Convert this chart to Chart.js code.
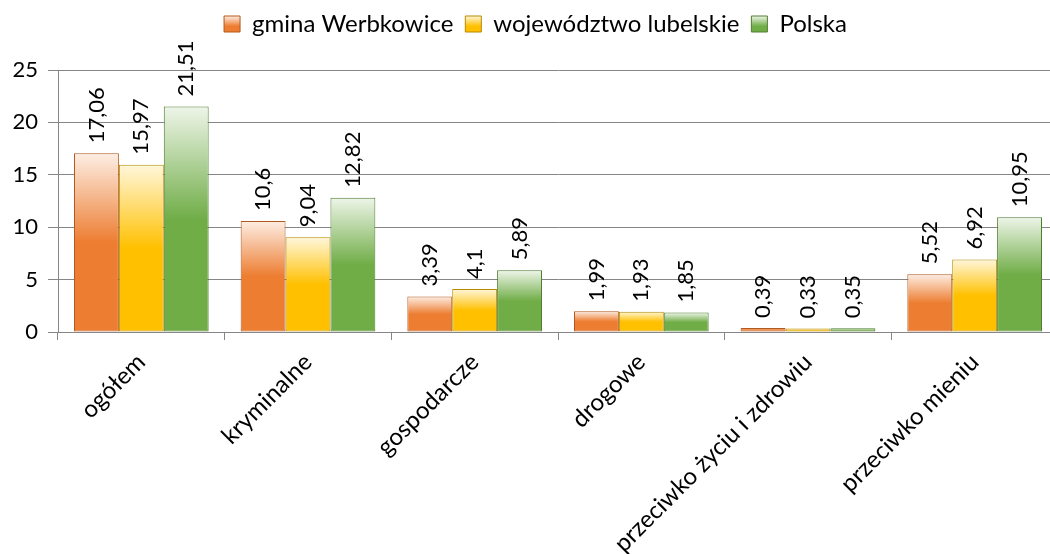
<!DOCTYPE html>
<html>
<head>
<meta charset="utf-8">
<script src="https://cdn.jsdelivr.net/npm/chart.js@4"></script>
<style>
    html, body { margin: 0; padding: 0; background: #fff; overflow: hidden; }
    #wrap { width: 1100px; height: 554px; position: relative; }
</style>
</head>
<body>
<div id="wrap"><canvas id="chart"></canvas></div>
<script>
const categories = ["ogółem", "kryminalne", "gospodarcze", "drogowe", "przeciwko życiu i zdrowiu", "przeciwko mieniu"];
const gmina = [17.06, 10.6, 3.39, 1.99, 0.39, 5.52];
const wojewodztwo = [15.97, 9.04, 4.1, 1.93, 0.33, 6.92];
const polska = [21.51, 12.82, 5.89, 1.85, 0.35, 10.95];
const seriesNames = ["gmina Werbkowice", "województwo lubelskie", "Polska"];
const yTicks = [0, 5, 10, 15, 20, 25];

const FONT = "Lato";
const NUM_SIZE = 22;   // digits (axis + value labels)
const TEXT_SIZE = 24;  // words (legend + categories)
const gridColor = "#868686";

// base, light top, border
const styles = [
    ["#ED7D31", "#FDEEE4", "#B1591E"],
    ["#FFC000", "#FFF7DC", "#B78A00"],
    ["#70AD47", "#EEF5E9", "#507E32"]
];

function barFill(i) {
    return function (ctx) {
        const [base, light] = styles[i];
        const chart = ctx.chart;
        if (!chart.chartArea || ctx.type !== 'data') return base;
        const y = chart.scales.y;
        const top = y.getPixelForValue(ctx.parsed.y);
        const bottom = y.getPixelForValue(0);
        if (!(bottom > top)) return base;
        const g = chart.ctx.createLinearGradient(0, top, 0, bottom);
        g.addColorStop(0, light);
        g.addColorStop(0.5, base);
        g.addColorStop(1, base);
        return g;
    };
}

const valueLabels = {
    id: 'valueLabels',
    afterDatasetsDraw(chart) {
        const c = chart.ctx;
        c.save();
        c.font = NUM_SIZE + "px " + FONT;
        c.fillStyle = "#000";
        c.textAlign = "left";
        c.textBaseline = "middle";
        chart.data.datasets.forEach((ds, i) => {
            chart.getDatasetMeta(i).data.forEach((bar, j) => {
                c.save();
                c.translate(bar.x, bar.y - 10);
                c.rotate(-Math.PI / 2);
                c.fillText(String(ds.data[j]).replace(".", ","), 0, 0);
                c.restore();
            });
        });
        c.restore();
    }
};

const legendHeight = {
    id: 'legendHeight',
    beforeInit(chart) {
        const fit = chart.legend.fit;
        chart.legend.fit = function () {
            fit.bind(chart.legend)();
            this.height = 70;
        };
    }
};

Chart.defaults.font.family = FONT;
Chart.defaults.font.size = NUM_SIZE;
Chart.defaults.color = "#000";

const seriesData = [gmina, wojewodztwo, polska];

new Chart(document.getElementById("chart"), {
    type: 'bar',
    data: {
        labels: categories,
        datasets: seriesData.map((d, i) => ({
            label: seriesNames[i],
            data: d,
            backgroundColor: barFill(i),
            borderColor: styles[i][2],
            borderWidth: 1,
            borderSkipped: false,
            barPercentage: 1,
            categoryPercentage: 0.808
        }))
    },
    options: {
        responsive: true,
        maintainAspectRatio: false,
        animation: false,
        layout: {
            padding: { left: 13, right: 42, top: 0, bottom: 0 }
        },
        plugins: {
            tooltip: { enabled: false },
            legend: {
                position: 'top',
                labels: {
                    font: { size: TEXT_SIZE },
                    boxWidth: 16,
                    boxHeight: 16,
                    padding: 12,
                    generateLabels(chart) {
                        return chart.data.datasets.map((ds, i) => {
                            const g = chart.ctx.createLinearGradient(0, 16, 0, 33);
                            g.addColorStop(0, styles[i][1]);
                            g.addColorStop(0.6, styles[i][0]);
                            g.addColorStop(1, styles[i][0]);
                            return {
                                text: ds.label,
                                fillStyle: g,
                                strokeStyle: styles[i][2],
                                lineWidth: 1,
                                datasetIndex: i,
                                hidden: false
                            };
                        });
                    }
                }
            }
        },
        scales: {
            x: {
                grid: {
                    drawOnChartArea: false,
                    drawTicks: true,
                    tickLength: 8,
                    color: gridColor,
                    offset: true
                },
                border: { display: false },
                ticks: {
                    font: { size: TEXT_SIZE },
                    autoSkip: false,
                    minRotation: 45,
                    maxRotation: 45,
                    padding: 8
                },
                afterFit(scale) { scale.height = 222; }
            },
            y: {
                min: yTicks[0],
                max: yTicks[yTicks.length - 1],
                ticks: {
                    stepSize: yTicks[1] - yTicks[0],
                    padding: 10
                },
                grid: {
                    color: gridColor,
                    tickLength: 10
                },
                border: { display: true, color: gridColor },
                afterFit(scale) { scale.width = 45; }
            }
        }
    },
    plugins: [valueLabels, legendHeight]
});
</script>
</body>
</html>
